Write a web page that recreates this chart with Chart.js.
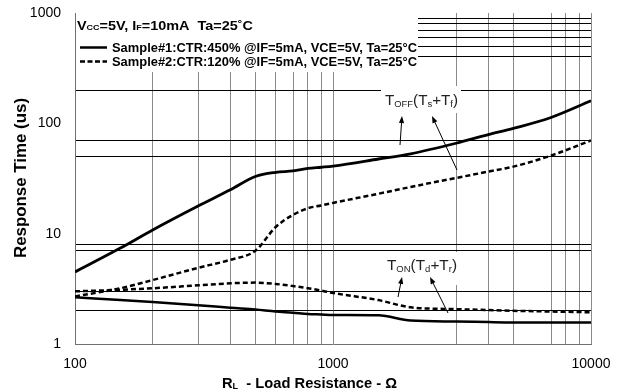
<!DOCTYPE html>
<html>
<head>
<meta charset="utf-8">
<script src="https://cdn.jsdelivr.net/npm/chart.js@4.4.1/dist/chart.umd.min.js"></script>
<style>
  html, body { margin: 0; padding: 0; background: #fff; }
  #wrap { width: 618px; height: 392px; }
</style>
</head>
<body>
<div id="wrap"><canvas id="chart" width="618" height="392"></canvas></div>
<script>
/* temps de réponse vs résistance de charge (en µs) */
const loadR   = [100, 150, 200, 300, 400, 500, 600, 700, 800, 900, 1000, 1500, 2000, 3000, 4000, 5000, 7000, 10000];
const toffS1  = [4.5, 7.4, 10.8, 17.8, 25, 33, 36, 37, 39, 40, 41, 47.5, 53, 66, 79, 90, 113, 160];
const toffS2  = [2.7, 3.2, 3.8, 4.9, 5.8, 7.0, 11.5, 14.8, 17, 18, 19, 23, 26.5, 32, 36.5, 40.5, 51, 70];
const tonS1   = [2.65, 2.5, 2.4, 2.25, 2.13, 2.05, 1.97, 1.92, 1.87, 1.85, 1.83, 1.82, 1.63, 1.6, 1.58, 1.57, 1.57, 1.57];
const tonS2   = [3.0, 3.1, 3.2, 3.4, 3.55, 3.6, 3.5, 3.35, 3.2, 3.05, 2.9, 2.5, 2.15, 2.07, 2.03, 2.0, 1.97, 1.94];

// graduations et lignes de grille
const xTickLabels = [100, 1000, 10000];
const xGridLines  = [200, 300, 400, 500, 600, 700, 800, 900, 1000, 3000, 4000, 5000, 7000, 8000, 9000, 10000];
const yTickLabels = [1, 10, 100, 1000];
const yGridLines  = [2, 3, 7, 8, 50, 70, 200, 400, 500, 600, 700, 800, 900];

const seriesNames = [
  "Sample#1:CTR:450% @IF=5mA, VCE=5V, Ta=25°C",
  "Sample#2:CTR:120% @IF=5mA, VCE=5V, Ta=25°C"
];

const FONT = "'Liberation Sans', Arial, sans-serif";

/* texte avec indices : parts = [[texte, indice?], ...] */
function richWidth(ctx, parts, size, weight) {
  let w = 0;
  parts.forEach(([t, sub]) => {
    ctx.font = weight + " " + (sub ? size * 0.62 : size) + "px " + FONT;
    w += ctx.measureText(t).width;
  });
  return w;
}
function drawRich(ctx, parts, x, y, size, weight, width, subDy) {
  const natural = richWidth(ctx, parts, size, weight);
  const sx = width ? width / natural : 1;
  ctx.save();
  ctx.translate(x, y);
  ctx.scale(sx, 1);
  ctx.textAlign = "left";
  ctx.textBaseline = "alphabetic";
  let cx = 0;
  parts.forEach(([t, sub]) => {
    ctx.font = weight + " " + (sub ? size * 0.62 : size) + "px " + FONT;
    ctx.fillText(t, cx, sub ? subDy : 0);
    cx += ctx.measureText(t).width;
  });
  ctx.restore();
}
function arrow(ctx, x1, y1, x2, y2) {
  const a = Math.atan2(y2 - y1, x2 - x1);
  ctx.beginPath();
  ctx.moveTo(x1, y1);
  ctx.lineTo(x2 - 5 * Math.cos(a), y2 - 5 * Math.sin(a));
  ctx.stroke();
  ctx.beginPath();
  ctx.moveTo(x2, y2);
  ctx.lineTo(x2 - 7 * Math.cos(a) + 2.6 * Math.sin(a), y2 - 7 * Math.sin(a) - 2.6 * Math.cos(a));
  ctx.lineTo(x2 - 7 * Math.cos(a) - 2.6 * Math.sin(a), y2 - 7 * Math.sin(a) + 2.6 * Math.cos(a));
  ctx.closePath();
  ctx.fill();
}

// légende, étiquettes Toff / Ton, flèches et titres d'axes
const decor = {
  id: "decor",
  beforeDatasetsDraw(chart) {
    const ctx = chart.ctx;
    ctx.save();
    ctx.fillStyle = "#fff";
    ctx.fillRect(76, 0, 342, 72);      // cadre de légende
    ctx.fillRect(381, 86, 80, 27);     // Toff
    ctx.fillRect(383, 252, 78, 33);    // Ton
    ctx.restore();
  },
  afterDatasetsDraw(chart) {
    const ctx = chart.ctx;
    ctx.save();
    ctx.fillStyle = "#000";
    ctx.strokeStyle = "#000";

    // légende
    drawRich(ctx, [["V"], ["CC", 1], ["=5V, I"], ["F", 1], ["=10mA  Ta=25˚C"]], 77, 29.5, 12.5, "bold", 176, 0.5);
    ctx.lineWidth = 2.5;
    ctx.beginPath(); ctx.moveTo(80, 47.5); ctx.lineTo(107, 47.5); ctx.stroke();
    ctx.setLineDash([5, 2.5]);
    ctx.beginPath(); ctx.moveTo(80, 61.5); ctx.lineTo(107, 61.5); ctx.stroke();
    ctx.setLineDash([]);
    drawRich(ctx, [[seriesNames[0]]], 112, 52, 12, "bold", 305, 0);
    drawRich(ctx, [[seriesNames[1]]], 112, 66, 12, "bold", 305, 0);

    // étiquettes
    ctx.fillStyle = "#222";
    drawRich(ctx, [["T"], ["OFF", 1], ["(T"], ["s", 1], ["+T"], ["f", 1], [")"]], 385, 105, 15.5, "normal", 73, 1.5);
    drawRich(ctx, [["T"], ["ON", 1], ["(T"], ["d", 1], ["+T"], ["r", 1], [")"]], 387, 270, 15.5, "normal", 70, 1.5);

    ctx.fillStyle = "#000";
    ctx.lineWidth = 1;
    arrow(ctx, 400, 145, 402, 116);
    arrow(ctx, 457, 170, 432, 116);
    arrow(ctx, 398, 297, 402, 277);
    arrow(ctx, 448, 313, 430, 277);

    // titres des axes
    drawRich(ctx, [["R"], ["L", 1], ["  - Load Resistance - Ω"]], 222, 388, 14, "bold", 175, 0.5);
    ctx.save();
    ctx.translate(26, 178);
    ctx.rotate(-Math.PI / 2);
    ctx.font = "bold 16px " + FONT;
    const tw = ctx.measureText("Response Time (us)").width;
    ctx.scale(160 / tw, 1);
    ctx.textAlign = "center";
    ctx.fillText("Response Time (us)", 0, 0);
    ctx.restore();

    ctx.restore();
  }
};

function pts(ys) { return loadR.map((x, i) => ({ x, y: ys[i] })); }

const line = (ys, dash, w) => ({
  data: pts(ys),
  borderColor: "#000",
  borderWidth: w,
  borderDash: dash,
  pointRadius: 0,
  fill: false,
  cubicInterpolationMode: "monotone"
});

// pas de marge automatique pour les étiquettes : la zone de tracé reste fixe
function noLabelPadding(s) {
  s.paddingTop = 0; s.paddingBottom = 0; s.paddingLeft = 0; s.paddingRight = 0;
}

new Chart(document.getElementById("chart"), {
  type: "line",
  data: {
    datasets: [
      line(toffS1, [], 2.8),
      line(toffS2, [5, 3], 2.5),
      line(tonS1, [], 2.5),
      line(tonS2, [5, 3], 2.5)
    ]
  },
  options: {
    responsive: false,
    animation: false,
    events: [],
    layout: { padding: { top: 13, right: 27, left: 0, bottom: 0 } },
    plugins: { legend: { display: false }, tooltip: { enabled: false } },
    scales: {
      x: {
        type: "logarithmic",
        min: 100, max: 10000,
        afterBuildTicks: s => { s.ticks = [100, ...xGridLines].map(v => ({ value: v })); },
        afterFit: s => { s.height = 48; noLabelPadding(s); },
        ticks: {
          autoSkip: false, maxRotation: 0, padding: 12, color: "#000",
          font: { family: FONT, size: 14 },
          callback: v => xTickLabels.includes(v) ? String(v) : ""
        },
        grid: {
          drawTicks: false, lineWidth: 1,
          color: c => xGridLines.includes(c.tick.value) ? "#8a8a8a" : "rgba(0,0,0,0)"
        },
        border: { color: "#707070", width: 1 }
      },
      y: {
        type: "logarithmic",
        min: 1, max: 1000,
        afterBuildTicks: s => { s.ticks = [...yTickLabels, ...yGridLines].sort((a, b) => a - b).map(v => ({ value: v })); },
        afterFit: s => { s.width = 75; noLabelPadding(s); },
        ticks: {
          autoSkip: false, padding: 14, color: "#000",
          font: { family: FONT, size: 14 },
          callback: v => yTickLabels.includes(v) ? String(v) : ""
        },
        grid: {
          drawTicks: false, lineWidth: 1,
          color: c => yGridLines.includes(c.tick.value) ? "#000" : "rgba(0,0,0,0)"
        },
        border: { color: "#707070", width: 1 }
      }
    }
  },
  plugins: [decor]
});
</script>
</body>
</html>
